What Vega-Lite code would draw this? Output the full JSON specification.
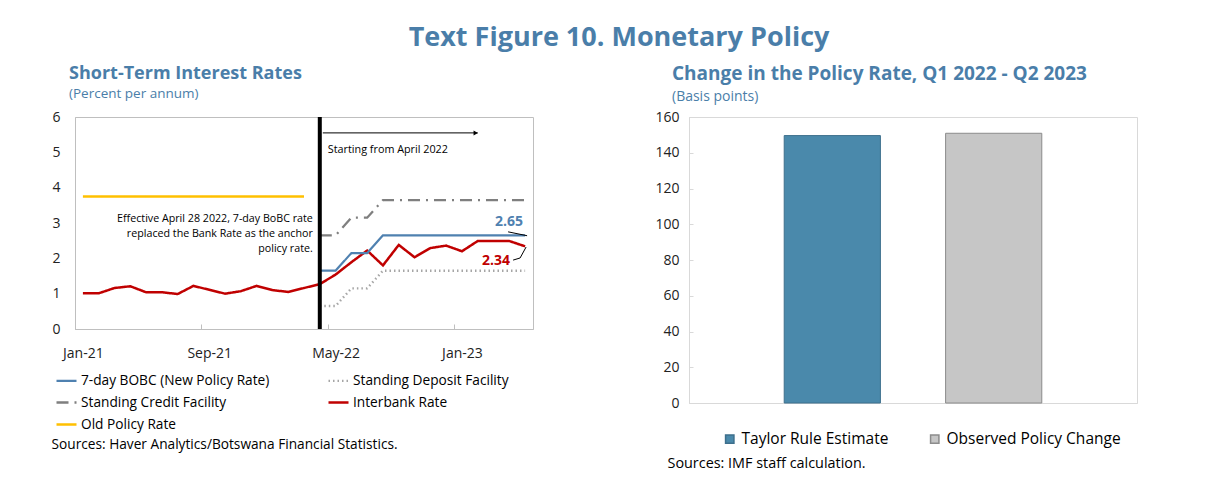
{
  "$schema": "https://vega.github.io/schema/vega-lite/v6.json",
  "background": "white",
  "padding": {"left": 50, "top": 24, "right": 0, "bottom": 0},
  "config": {"font": "Open Sans", "view": {"stroke": "#bfbfbf"}},
  "title": {"text": "Text Figure 10. Monetary Policy", "fontSize": 27, "fontWeight": "bold", "color": "#4a7ea9", "anchor": "middle", "offset": 12, "dx": 25},
  "spacing": 120,
  "resolve": {
    "scale": {"color": "independent", "stroke": "independent", "strokeDash": "independent", "strokeWidth": "independent"},
    "legend": {"color": "independent", "stroke": "independent", "strokeDash": "independent", "strokeWidth": "independent"}
  },
  "datasets": {
    "rates": [
      {"month": "Jan-21", "series": "Interbank Rate", "value": 1.01},
      {"month": "Feb-21", "series": "Interbank Rate", "value": 1.01},
      {"month": "Mar-21", "series": "Interbank Rate", "value": 1.16},
      {"month": "Apr-21", "series": "Interbank Rate", "value": 1.21},
      {"month": "May-21", "series": "Interbank Rate", "value": 1.04},
      {"month": "Jun-21", "series": "Interbank Rate", "value": 1.04},
      {"month": "Jul-21", "series": "Interbank Rate", "value": 0.99},
      {"month": "Aug-21", "series": "Interbank Rate", "value": 1.22},
      {"month": "Sep-21", "series": "Interbank Rate", "value": 1.11},
      {"month": "Oct-21", "series": "Interbank Rate", "value": 1.00},
      {"month": "Nov-21", "series": "Interbank Rate", "value": 1.07},
      {"month": "Dec-21", "series": "Interbank Rate", "value": 1.22},
      {"month": "Jan-22", "series": "Interbank Rate", "value": 1.10},
      {"month": "Feb-22", "series": "Interbank Rate", "value": 1.05},
      {"month": "Mar-22", "series": "Interbank Rate", "value": 1.16},
      {"month": "Apr-22", "series": "Interbank Rate", "value": 1.27},
      {"month": "May-22", "series": "Interbank Rate", "value": 1.54},
      {"month": "Jun-22", "series": "Interbank Rate", "value": 1.89},
      {"month": "Jul-22", "series": "Interbank Rate", "value": 2.22},
      {"month": "Aug-22", "series": "Interbank Rate", "value": 1.80},
      {"month": "Sep-22", "series": "Interbank Rate", "value": 2.38},
      {"month": "Oct-22", "series": "Interbank Rate", "value": 2.03},
      {"month": "Nov-22", "series": "Interbank Rate", "value": 2.29},
      {"month": "Dec-22", "series": "Interbank Rate", "value": 2.36},
      {"month": "Jan-23", "series": "Interbank Rate", "value": 2.20},
      {"month": "Feb-23", "series": "Interbank Rate", "value": 2.49},
      {"month": "Mar-23", "series": "Interbank Rate", "value": 2.49},
      {"month": "Apr-23", "series": "Interbank Rate", "value": 2.49},
      {"month": "May-23", "series": "Interbank Rate", "value": 2.34},
      {"month": "Jan-21", "series": "Old Policy Rate", "value": 3.75},
      {"month": "Feb-21", "series": "Old Policy Rate", "value": 3.75},
      {"month": "Mar-21", "series": "Old Policy Rate", "value": 3.75},
      {"month": "Apr-21", "series": "Old Policy Rate", "value": 3.75},
      {"month": "May-21", "series": "Old Policy Rate", "value": 3.75},
      {"month": "Jun-21", "series": "Old Policy Rate", "value": 3.75},
      {"month": "Jul-21", "series": "Old Policy Rate", "value": 3.75},
      {"month": "Aug-21", "series": "Old Policy Rate", "value": 3.75},
      {"month": "Sep-21", "series": "Old Policy Rate", "value": 3.75},
      {"month": "Oct-21", "series": "Old Policy Rate", "value": 3.75},
      {"month": "Nov-21", "series": "Old Policy Rate", "value": 3.75},
      {"month": "Dec-21", "series": "Old Policy Rate", "value": 3.75},
      {"month": "Jan-22", "series": "Old Policy Rate", "value": 3.75},
      {"month": "Feb-22", "series": "Old Policy Rate", "value": 3.75},
      {"month": "Mar-22", "series": "Old Policy Rate", "value": 3.75},
      {"month": "Apr-22", "series": "7-day BOBC (New Policy Rate)", "value": 1.65},
      {"month": "May-22", "series": "7-day BOBC (New Policy Rate)", "value": 1.65},
      {"month": "Jun-22", "series": "7-day BOBC (New Policy Rate)", "value": 2.15},
      {"month": "Jul-22", "series": "7-day BOBC (New Policy Rate)", "value": 2.15},
      {"month": "Aug-22", "series": "7-day BOBC (New Policy Rate)", "value": 2.65},
      {"month": "Sep-22", "series": "7-day BOBC (New Policy Rate)", "value": 2.65},
      {"month": "Oct-22", "series": "7-day BOBC (New Policy Rate)", "value": 2.65},
      {"month": "Nov-22", "series": "7-day BOBC (New Policy Rate)", "value": 2.65},
      {"month": "Dec-22", "series": "7-day BOBC (New Policy Rate)", "value": 2.65},
      {"month": "Jan-23", "series": "7-day BOBC (New Policy Rate)", "value": 2.65},
      {"month": "Feb-23", "series": "7-day BOBC (New Policy Rate)", "value": 2.65},
      {"month": "Mar-23", "series": "7-day BOBC (New Policy Rate)", "value": 2.65},
      {"month": "Apr-23", "series": "7-day BOBC (New Policy Rate)", "value": 2.65},
      {"month": "May-23", "series": "7-day BOBC (New Policy Rate)", "value": 2.65},
      {"month": "Apr-22", "series": "Standing Credit Facility", "value": 2.65},
      {"month": "May-22", "series": "Standing Credit Facility", "value": 2.65},
      {"month": "Jun-22", "series": "Standing Credit Facility", "value": 3.15},
      {"month": "Jul-22", "series": "Standing Credit Facility", "value": 3.15},
      {"month": "Aug-22", "series": "Standing Credit Facility", "value": 3.65},
      {"month": "Sep-22", "series": "Standing Credit Facility", "value": 3.65},
      {"month": "Oct-22", "series": "Standing Credit Facility", "value": 3.65},
      {"month": "Nov-22", "series": "Standing Credit Facility", "value": 3.65},
      {"month": "Dec-22", "series": "Standing Credit Facility", "value": 3.65},
      {"month": "Jan-23", "series": "Standing Credit Facility", "value": 3.65},
      {"month": "Feb-23", "series": "Standing Credit Facility", "value": 3.65},
      {"month": "Mar-23", "series": "Standing Credit Facility", "value": 3.65},
      {"month": "Apr-23", "series": "Standing Credit Facility", "value": 3.65},
      {"month": "May-23", "series": "Standing Credit Facility", "value": 3.65},
      {"month": "Apr-22", "series": "Standing Deposit Facility", "value": 0.65},
      {"month": "May-22", "series": "Standing Deposit Facility", "value": 0.65},
      {"month": "Jun-22", "series": "Standing Deposit Facility", "value": 1.15},
      {"month": "Jul-22", "series": "Standing Deposit Facility", "value": 1.15},
      {"month": "Aug-22", "series": "Standing Deposit Facility", "value": 1.65},
      {"month": "Sep-22", "series": "Standing Deposit Facility", "value": 1.65},
      {"month": "Oct-22", "series": "Standing Deposit Facility", "value": 1.65},
      {"month": "Nov-22", "series": "Standing Deposit Facility", "value": 1.65},
      {"month": "Dec-22", "series": "Standing Deposit Facility", "value": 1.65},
      {"month": "Jan-23", "series": "Standing Deposit Facility", "value": 1.65},
      {"month": "Feb-23", "series": "Standing Deposit Facility", "value": 1.65},
      {"month": "Mar-23", "series": "Standing Deposit Facility", "value": 1.65},
      {"month": "Apr-23", "series": "Standing Deposit Facility", "value": 1.65},
      {"month": "May-23", "series": "Standing Deposit Facility", "value": 1.65}
    ],
    "change": [
      {"series": "Taylor Rule Estimate", "value": 149.6},
      {"series": "Observed Policy Change", "value": 150.9}
    ]
  },
  "hconcat": [
    {
      "width": 458,
      "height": 212,
      "view": {"stroke": "#bfbfbf"},
      "title": {"text": "Short-Term Interest Rates", "subtitle": "(Percent per annum)", "anchor": "start", "frame": "group", "dx": -6, "fontSize": 18, "fontWeight": "bold", "color": "#4a7ea9", "subtitleFontSize": 13.5, "subtitleColor": "#4a7ea9", "subtitlePadding": 4, "offset": 10},
      "layer": [
        {
          "data": {"name": "rates"},
          "mark": {"type": "line", "strokeCap": "butt"},
          "encoding": {
            "x": {
              "field": "month", "type": "ordinal",
              "scale": {"type": "point", "padding": 0.5, "domain": ["Jan-21","Feb-21","Mar-21","Apr-21","May-21","Jun-21","Jul-21","Aug-21","Sep-21","Oct-21","Nov-21","Dec-21","Jan-22","Feb-22","Mar-22","Apr-22","May-22","Jun-22","Jul-22","Aug-22","Sep-22","Oct-22","Nov-22","Dec-22","Jan-23","Feb-23","Mar-23","Apr-23","May-23"]},
              "axis": {"values": ["Jan-21","Sep-21","May-22","Jan-23"], "labelAngle": 0, "tickOffset": -7.9, "labelOffset": 7.9, "tickSize": -5, "tickColor": "#bfbfbf", "domainColor": "#bfbfbf", "labelFontSize": 14, "labelColor": "#222", "labelPadding": 22, "title": "Sources: Haver Analytics/Botswana Financial Statistics.", "titleAnchor": "start", "titleAlign": "left", "titleX": -24, "titleY": 108, "titleFontSize": 13.7, "titleFontWeight": "normal", "titleColor": "#000"}
            },
            "y": {
              "field": "value", "type": "quantitative",
              "scale": {"domain": [0, 6]},
              "axis": {"values": [0,1,2,3,4,5,6], "tickCount": 7, "labelOverlap": false, "grid": false, "ticks": false, "domainColor": "#bfbfbf", "labelFontSize": 14, "labelColor": "#222", "labelPadding": 15, "title": null}
            },
            "color": {
              "field": "series", "type": "nominal", "title": null,
              "scale": {"domain": ["7-day BOBC (New Policy Rate)","Standing Credit Facility","Old Policy Rate","Standing Deposit Facility","Interbank Rate"], "range": ["#4f81b0","#7f7f7f","#ffc000","#a6a6a6","#c00000"]},
              "legend": {"orient": "none", "legendX": -20, "legendY": 252, "columns": 2, "columnPadding": 53, "rowPadding": 3, "labelFontSize": 13.7, "labelLimit": 400, "labelColor": "#000", "labelOffset": 3, "symbolType": "stroke", "symbolSize": 400}
            },
            "strokeDash": {
              "field": "series", "type": "nominal", "title": null,
              "scale": {"domain": ["7-day BOBC (New Policy Rate)","Standing Credit Facility","Old Policy Rate","Standing Deposit Facility","Interbank Rate"], "range": [[1,0],[12,6,2,6],[1,0],[1.5,3],[1,0]]}
            },
            "strokeWidth": {
              "field": "series", "type": "nominal", "title": null,
              "scale": {"domain": ["7-day BOBC (New Policy Rate)","Standing Credit Facility","Old Policy Rate","Standing Deposit Facility","Interbank Rate"], "range": [2.2,2.5,1.6,2,2.5]}
            }
          }
        },
        {
          "data": {"values": [{}]},
          "mark": {"type": "rule", "strokeWidth": 4, "color": "#000"},
          "encoding": {"x": {"datum": "Apr-22", "type": "ordinal"}}
        },
        {
          "data": {"values": [{}]},
          "mark": {"type": "rule", "strokeWidth": 1, "color": "#000", "xOffset": 3},
          "encoding": {"x": {"datum": "Apr-22", "type": "ordinal"}, "x2": {"datum": "Feb-23"}, "y": {"datum": 5.55, "type": "quantitative"}}
        },
        {
          "data": {"values": [{}]},
          "mark": {"type": "point", "shape": "triangle-right", "filled": true, "size": 25, "color": "#000", "opacity": 1, "xOffset": -2},
          "encoding": {"x": {"datum": "Feb-23", "type": "ordinal"}, "y": {"datum": 5.55, "type": "quantitative"}}
        },
        {
          "data": {"values": [{}]},
          "mark": {"type": "text", "text": "Starting from April 2022", "align": "left", "baseline": "middle", "dx": 8, "fontSize": 10.8, "color": "#000"},
          "encoding": {"x": {"datum": "Apr-22", "type": "ordinal"}, "y": {"datum": 5.07, "type": "quantitative"}}
        },
        {
          "data": {"values": [{}]},
          "mark": {"type": "text", "text": ["Effective April 28 2022, 7-day BoBC rate", "replaced the Bank Rate as the anchor", "policy rate."], "align": "right", "baseline": "middle", "dx": -7, "fontSize": 10.7, "lineHeight": 15, "color": "#000"},
          "encoding": {"x": {"datum": "Apr-22", "type": "ordinal"}, "y": {"datum": 3.12, "type": "quantitative"}}
        },
        {
          "data": {"values": [{}]},
          "mark": {"type": "text", "text": "2.65", "align": "right", "baseline": "middle", "dx": -2, "fontSize": 14, "fontWeight": "bold", "color": "#4f81b0"},
          "encoding": {"x": {"datum": "May-23", "type": "ordinal"}, "y": {"datum": 3.03, "type": "quantitative"}}
        },
        {
          "data": {"values": [{}]},
          "mark": {"type": "text", "text": "2.34", "align": "right", "baseline": "middle", "dx": -15, "fontSize": 14, "fontWeight": "bold", "color": "#c00000"},
          "encoding": {"x": {"datum": "May-23", "type": "ordinal"}, "y": {"datum": 1.93, "type": "quantitative"}}
        },
        {
          "data": {"values": [{}]},
          "mark": {"type": "rule", "strokeWidth": 1, "color": "#000", "xOffset": -17, "x2Offset": 2},
          "encoding": {"x": {"datum": "May-23", "type": "ordinal"}, "x2": {"datum": "May-23"}, "y": {"datum": 2.75, "type": "quantitative"}, "y2": {"datum": 2.64}}
        },
        {
          "data": {"values": [{}]},
          "mark": {"type": "rule", "strokeWidth": 1, "color": "#000", "xOffset": -12, "x2Offset": -5},
          "encoding": {"x": {"datum": "May-23", "type": "ordinal"}, "x2": {"datum": "May-23"}, "y": {"datum": 1.95, "type": "quantitative"}, "y2": {"datum": 2.01}}
        },
        {
          "data": {"values": [{}]},
          "mark": {"type": "rule", "strokeWidth": 1, "color": "#000", "xOffset": -5, "x2Offset": 1},
          "encoding": {"x": {"datum": "May-23", "type": "ordinal"}, "x2": {"datum": "May-23"}, "y": {"datum": 2.01, "type": "quantitative"}, "y2": {"datum": 2.32}}
        }
      ]
    },
    {
      "width": 448,
      "height": 286,
      "view": {"stroke": "#d9d9d9"},
      "title": {"text": "Change in the Policy Rate, Q1 2022 - Q2 2023", "subtitle": "(Basis points)", "anchor": "start", "frame": "group", "dx": -17, "fontSize": 19, "fontWeight": "bold", "color": "#4a7ea9", "subtitleFontSize": 14, "subtitleColor": "#4a7ea9", "subtitlePadding": 6, "offset": 6},
      "data": {"name": "change"},
      "mark": {"type": "bar", "strokeWidth": 1},
      "encoding": {
        "x": {
          "field": "series", "type": "nominal", "sort": null,
          "scale": {"paddingInner": 0.404, "paddingOuter": 0.59},
          "axis": {"labels": false, "ticks": false, "domainColor": "#d9d9d9", "title": "Sources: IMF staff calculation.", "titleAnchor": "start", "titleAlign": "left", "titleX": -22, "titleY": 53, "titleFontSize": 14.4, "titleFontWeight": "normal", "titleColor": "#000"}
        },
        "y": {
          "field": "value", "type": "quantitative",
          "scale": {"domain": [0, 160]},
          "axis": {"values": [0,20,40,60,80,100,120,140,160], "labelOverlap": false, "grid": false, "tickSize": -4, "tickColor": "#d9d9d9", "domainColor": "#d9d9d9", "labelFontSize": 14, "labelColor": "#222", "labelPadding": 14, "title": null}
        },
        "color": {
          "field": "series", "type": "nominal", "title": null,
          "scale": {"domain": ["Taylor Rule Estimate", "Observed Policy Change"], "range": ["#4a89ab", "#c6c6c6"]},
          "legend": {"orient": "none", "legendX": 33, "legendY": 314, "direction": "horizontal", "columnPadding": 38, "labelFontSize": 15.5, "labelLimit": 400, "labelColor": "#000", "labelOffset": 4, "symbolType": "square", "symbolSize": 70}
        },
        "stroke": {
          "field": "series", "type": "nominal", "title": null,
          "scale": {"domain": ["Taylor Rule Estimate", "Observed Policy Change"], "range": ["#3d6f8c", "#8c8c8c"]}
        }
      }
    }
  ]
}
